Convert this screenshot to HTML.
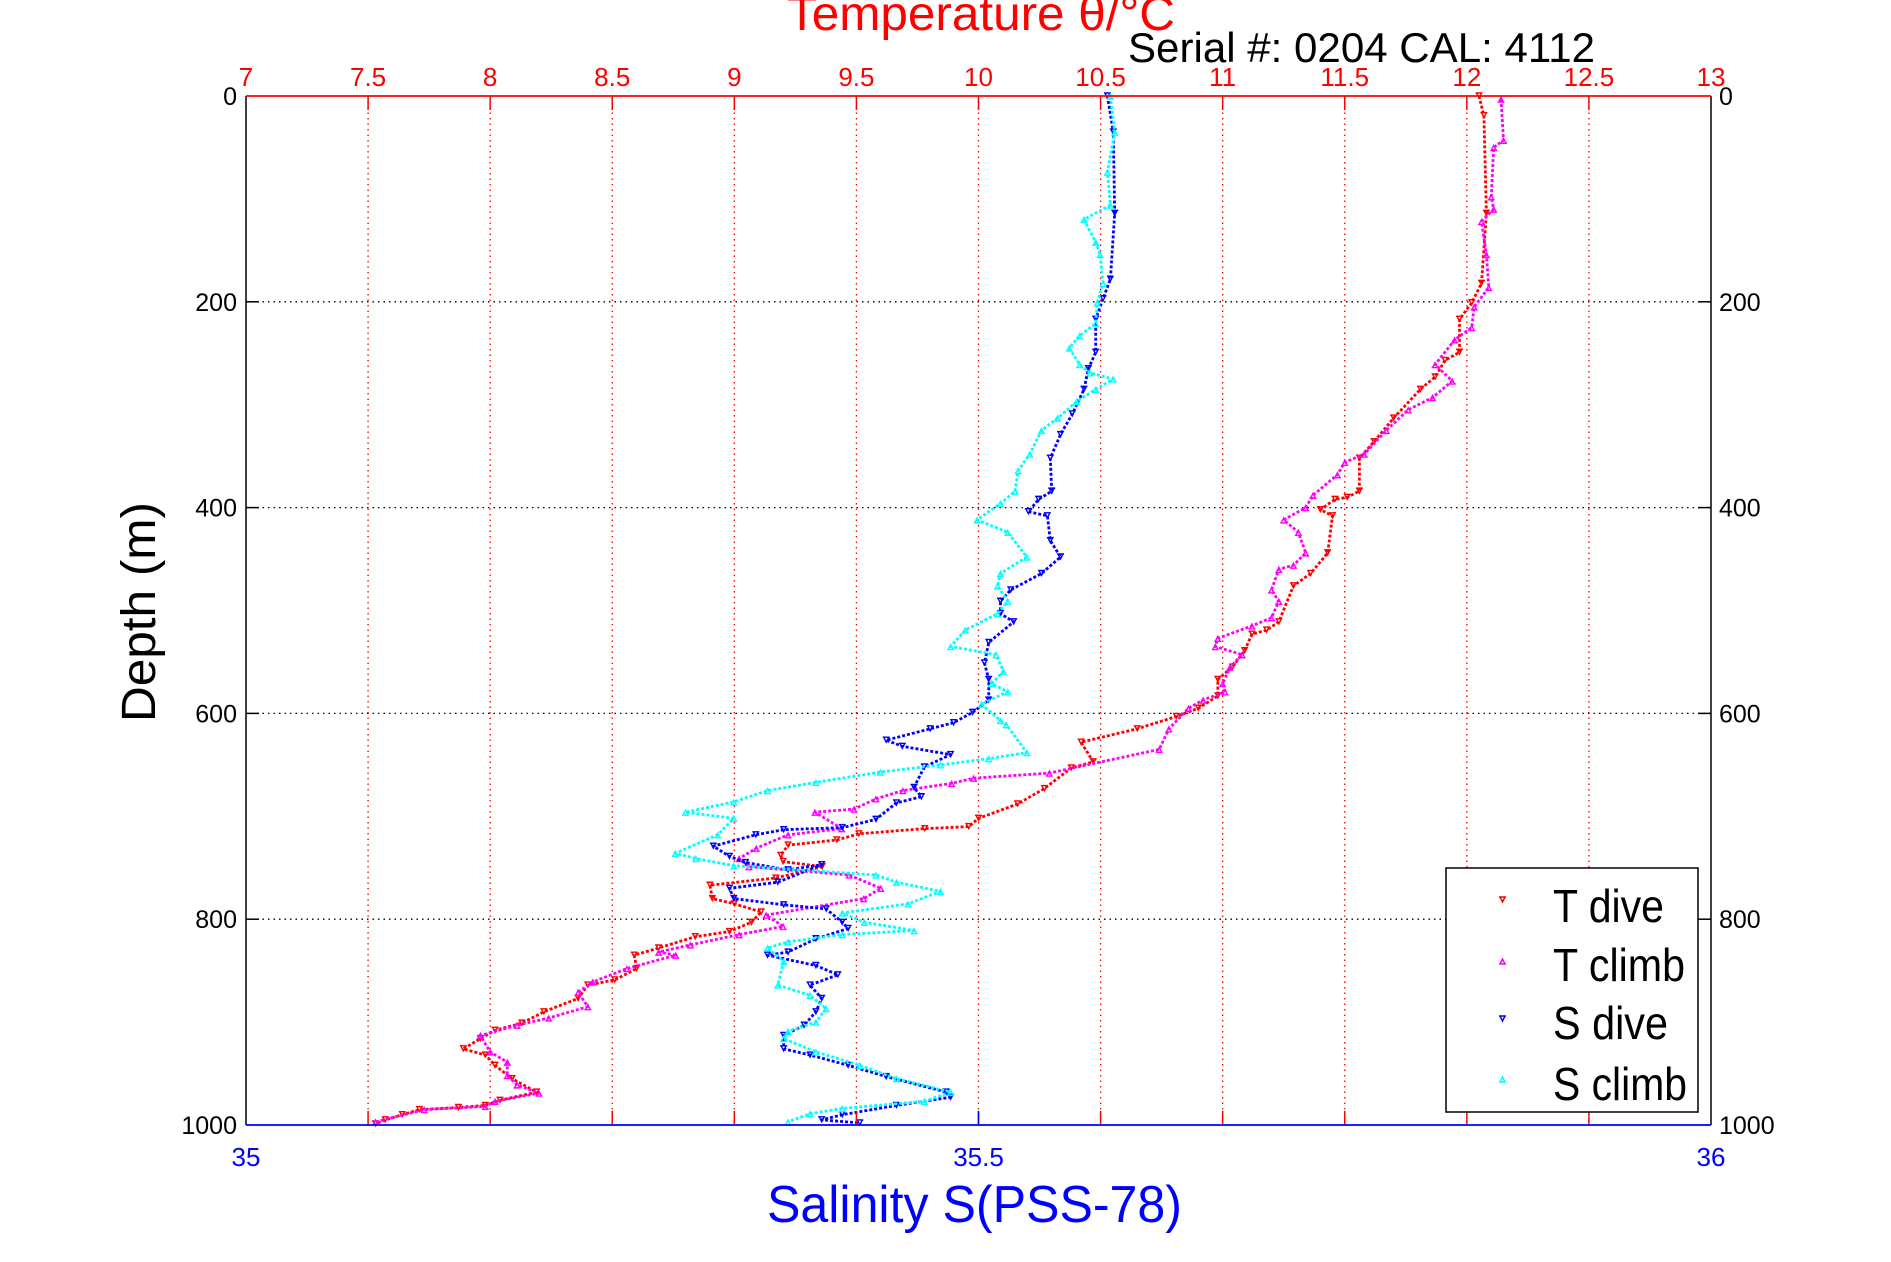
<!DOCTYPE html>
<html><head><meta charset="utf-8"><style>
html,body{margin:0;padding:0;background:#fff;}
svg{display:block;font-family:"Liberation Sans",sans-serif;}
</style></head><body>
<svg id="chart" width="1891" height="1262" viewBox="0 0 1891 1262" xmlns="http://www.w3.org/2000/svg">
<rect width="1891" height="1262" fill="#fff"/>
<g id="grid"></g>
<g id="series"></g>
<g id="axes"></g>
<text x="787" y="30" font-size="48" fill="#ff0000" textLength="388" lengthAdjust="spacingAndGlyphs">Temperature θ/°C</text>
<text x="1128" y="62" font-size="42" fill="#000" textLength="467" lengthAdjust="spacingAndGlyphs">Serial #: 0204  CAL: 4112</text>
<text x="767" y="1222" font-size="52" fill="#0000ff" textLength="415" lengthAdjust="spacingAndGlyphs">Salinity S(PSS-78)</text>
<text transform="translate(155,612) rotate(-90)" text-anchor="middle" font-size="48" fill="#000" textLength="220" lengthAdjust="spacingAndGlyphs">Depth (m)</text>
<g>
<rect x="1446" y="868" width="252" height="244" fill="#fff" stroke="#000" stroke-width="1.5"/>
<path d="M1499 897 h7 M1500 897 l2.5 5 l2.5 -5" stroke="#ff0000" fill="none" stroke-width="1.5"/>
<text x="1553" y="922" font-size="46" textLength="111" lengthAdjust="spacingAndGlyphs">T dive</text>
<path d="M1499 964 h7 M1500 964 l2.5 -5 l2.5 5" stroke="#ff00ff" fill="none" stroke-width="1.5"/>
<text x="1553" y="981" font-size="46" textLength="132" lengthAdjust="spacingAndGlyphs">T climb</text>
<path d="M1499 1016 h7 M1500 1016 l2.5 5 l2.5 -5" stroke="#0000ff" fill="none" stroke-width="1.5"/>
<text x="1553" y="1039" font-size="46" textLength="115" lengthAdjust="spacingAndGlyphs">S dive</text>
<path d="M1499 1082 h7 M1500 1082 l2.5 -5 l2.5 5" stroke="#00ffff" fill="none" stroke-width="1.5"/>
<text x="1553" y="1100" font-size="46" textLength="134" lengthAdjust="spacingAndGlyphs">S climb</text>
</g>
</svg>
<script>
const tTicks = [7,7.5,8,8.5,9,9.5,10,10.5,11,11.5,12,12.5,13];
const tTickLabels = ["7","7.5","8","8.5","9","9.5","10","10.5","11","11.5","12","12.5","13"];
const sTicks = [35,35.5,36];
const sTickLabels = ["35","35.5","36"];
const dTicks = [0,200,400,600,800,1000];
const dTickLabels = ["0","200","400","600","800","1000"];

const tDiveDepth = [0,19,114,182,201,217,249,257,273,285,313,336,352,384,390,392,402,408,444,464,476,511,519,523,539,555,567,583,595,603,615,628,647,653,673,688,702,710,712,717,723,728,738,744,749,760,767,780,785,793,803,812,817,828,835,848,859,864,877,890,901,908,916,926,932,942,955,968,976,981,983,985,990,995,999];
const tDiveTemp = [12.05,12.07,12.08,12.06,12.02,11.97,11.97,11.91,11.87,11.81,11.70,11.62,11.56,11.56,11.51,11.46,11.40,11.45,11.43,11.36,11.29,11.23,11.18,11.12,11.09,11.04,10.98,10.98,10.90,10.81,10.65,10.42,10.47,10.38,10.27,10.16,10.0,9.96,9.78,9.51,9.42,9.22,9.19,9.20,9.36,9.17,8.90,8.91,9.00,9.11,9.07,8.98,8.84,8.69,8.59,8.60,8.51,8.40,8.36,8.22,8.13,8.02,7.96,7.89,7.98,8.02,8.09,8.19,8.04,7.98,7.87,7.71,7.64,7.57,7.53];

const tClimbDepth = [3,43,50,98,110,122,154,186,205,225,237,261,277,293,305,325,348,356,368,388,400,412,424,444,456,460,480,491,507,515,527,535,543,555,571,579,587,595,615,635,658,663,668,675,683,693,696,712,718,731,741,749,757,770,780,796,807,815,825,832,835,848,861,871,885,896,903,913,929,939,952,961,969,977,982,985,997];
const tClimbTemp = [12.14,12.15,12.11,12.10,12.11,12.06,12.08,12.09,12.03,12.02,11.95,11.87,11.94,11.86,11.76,11.67,11.58,11.50,11.47,11.37,11.34,11.25,11.31,11.34,11.29,11.23,11.20,11.23,11.20,11.12,10.98,10.97,11.08,11.03,11.0,11.01,10.92,10.86,10.78,10.74,10.29,9.98,9.89,9.69,9.58,9.49,9.33,9.44,9.22,9.09,9.02,9.06,9.47,9.60,9.53,9.13,9.20,9.02,8.82,8.69,8.76,8.56,8.42,8.36,8.40,8.24,8.11,7.96,8.0,8.07,8.07,8.11,8.2,8.02,7.98,7.73,7.53];

const sDiveDepth = [0,35,114,178,197,217,249,265,285,309,329,352,384,392,404,408,432,448,464,480,491,503,511,531,551,567,587,599,609,615,626,632,640,652,672,681,687,703,711,713,718,729,739,745,752,747,764,770,780,786,790,803,809,819,832,835,845,854,864,877,890,903,913,926,932,942,953,968,973,981,990,995,998];
const sDiveSal = [35.588,35.592,35.593,35.590,35.585,35.580,35.580,35.575,35.572,35.564,35.556,35.549,35.550,35.541,35.534,35.547,35.549,35.556,35.543,35.522,35.515,35.515,35.524,35.507,35.504,35.507,35.507,35.496,35.483,35.467,35.437,35.448,35.481,35.463,35.456,35.461,35.444,35.430,35.407,35.367,35.348,35.319,35.330,35.341,35.370,35.393,35.363,35.330,35.333,35.367,35.396,35.407,35.411,35.389,35.370,35.356,35.389,35.404,35.385,35.393,35.389,35.381,35.367,35.367,35.385,35.411,35.437,35.478,35.481,35.444,35.407,35.393,35.419];

const sClimbDepth = [0,35,74,106,120,142,154,182,201,221,233,245,261,269,275,285,297,313,325,348,364,384,396,412,424,448,464,476,491,503,519,535,543,559,571,579,591,607,611,638,644,650,657,667,675,686,696,702,718,736,741,748,757,764,773,785,794,803,811,815,822,828,841,864,874,887,900,909,916,929,942,955,968,977,984,989,997];
const sClimbSal = [35.590,35.593,35.588,35.590,35.572,35.580,35.583,35.585,35.581,35.580,35.569,35.562,35.569,35.576,35.592,35.580,35.567,35.554,35.543,35.535,35.527,35.525,35.515,35.499,35.520,35.533,35.515,35.513,35.520,35.513,35.491,35.481,35.512,35.517,35.509,35.520,35.502,35.515,35.519,35.533,35.507,35.474,35.433,35.389,35.356,35.333,35.300,35.333,35.322,35.293,35.307,35.333,35.430,35.444,35.474,35.452,35.407,35.422,35.456,35.407,35.370,35.356,35.367,35.363,35.385,35.396,35.389,35.370,35.367,35.389,35.419,35.444,35.481,35.463,35.407,35.385,35.370];

const L=246,R=1711,T=96,B=1125;
function xT(t){return L+(t-7)/6*(R-L);}
function xS(s){return L+(s-35)*(R-L);}
function yD(d){return T+d/1000*(B-T);}
const NS="http://www.w3.org/2000/svg";
function mk(tag,attrs,parent){const e=document.createElementNS(NS,tag);for(const k in attrs)e.setAttribute(k,attrs[k]);parent.appendChild(e);return e;}
const grid=document.getElementById('grid'),axes=document.getElementById('axes'),series=document.getElementById('series');

tTicks.forEach((t,i)=>{
  const x=xT(t);
  if(i>0&&i<tTicks.length-1){
    const g=mk('line',{x1:x,x2:x,y1:T,y2:B,stroke:'#ff0000','stroke-width':1.3,'stroke-dasharray':'1.5 4'},grid);
    
    
    mk('line',{x1:x,x2:x,y1:T,y2:T+14,stroke:'#ff0000','stroke-width':1.5},axes);
    mk('line',{x1:x,x2:x,y1:B,y2:B-14,stroke:'#ff0000','stroke-width':1.5},axes);
  }
  const lb=mk('text',{x:x,y:86,'text-anchor':'middle','font-size':26,fill:'#ff0000'},axes);
  lb.textContent=tTickLabels[i];
  
  
});
dTicks.forEach((d,i)=>{
  const y=yD(d);
  if(i>0&&i<dTicks.length-1){
    const g=mk('line',{x1:L,x2:R,y1:y,y2:y,stroke:'#000','stroke-width':1.3,'stroke-dasharray':'1.5 4'},grid);
    
    
    mk('line',{x1:L,x2:L+13,y1:y,y2:y,stroke:'#000','stroke-width':1.5},axes);
    mk('line',{x1:R,x2:R-13,y1:y,y2:y,stroke:'#000','stroke-width':1.5},axes);
  }
  const a=mk('text',{x:237,y:y+9,'text-anchor':'end','font-size':25,fill:'#000'},axes);
  a.textContent=dTickLabels[i];
  
  
  const b=mk('text',{x:1719,y:y+9,'font-size':25,fill:'#000'},axes);
  b.textContent=dTickLabels[i];
  
  
});
sTicks.forEach((s,i)=>{
  const x=xS(s);
  if(i>0&&i<sTicks.length-1) mk('line',{x1:x,x2:x,y1:B,y2:B-14,stroke:'#0000ff','stroke-width':1.5},axes);
  const lb=mk('text',{x:x,y:1166,'text-anchor':'middle','font-size':26,fill:'#0000ff'},axes);
  lb.textContent=sTickLabels[i];
  
  
});
mk('line',{x1:L,x2:L,y1:T,y2:B,stroke:'#000','stroke-width':1.5},axes);
mk('line',{x1:R,x2:R,y1:T,y2:B,stroke:'#000','stroke-width':1.5},axes);
mk('line',{x1:L,x2:R,y1:T,y2:T,stroke:'#ff0000','stroke-width':1.8},axes);
mk('line',{x1:L,x2:R,y1:B,y2:B,stroke:'#0000ff','stroke-width':1.8},axes);

function drawSeries(name,vals,depths,xf,color,down){
  const g=mk('g',{},series);
  
  
  const pts=vals.map((v,i)=>xf(v).toFixed(1)+','+yD(depths[i]).toFixed(1)).join(' ');
  const pl=mk('polyline',{points:pts,fill:'none',stroke:color,'stroke-width':2.8,'stroke-linejoin':'round','stroke-dasharray':'3 2'},g);
  
  
  vals.forEach((v,i)=>{
    const x=xf(v),y=yD(depths[i]);
    const d=down?`M${x-3.5} ${y-3} h7 M${x-2.5} ${y-3} l2.5 5 l2.5 -5`:`M${x-3.5} ${y+3} h7 M${x-2.5} ${y+3} l2.5 -5 l2.5 5`;
    const m=mk('path',{d:d,fill:'none',stroke:color,'stroke-width':1.4},g);
    
    
  });
}
drawSeries('t-dive-series',tDiveTemp,tDiveDepth,xT,'#ff0000',true);
drawSeries('t-climb-series',tClimbTemp,tClimbDepth,xT,'#ff00ff',false);
drawSeries('s-dive-series',sDiveSal,sDiveDepth,xS,'#0000ff',true);
drawSeries('s-climb-series',sClimbSal,sClimbDepth,xS,'#00ffff',false);
</script>
</body></html>
